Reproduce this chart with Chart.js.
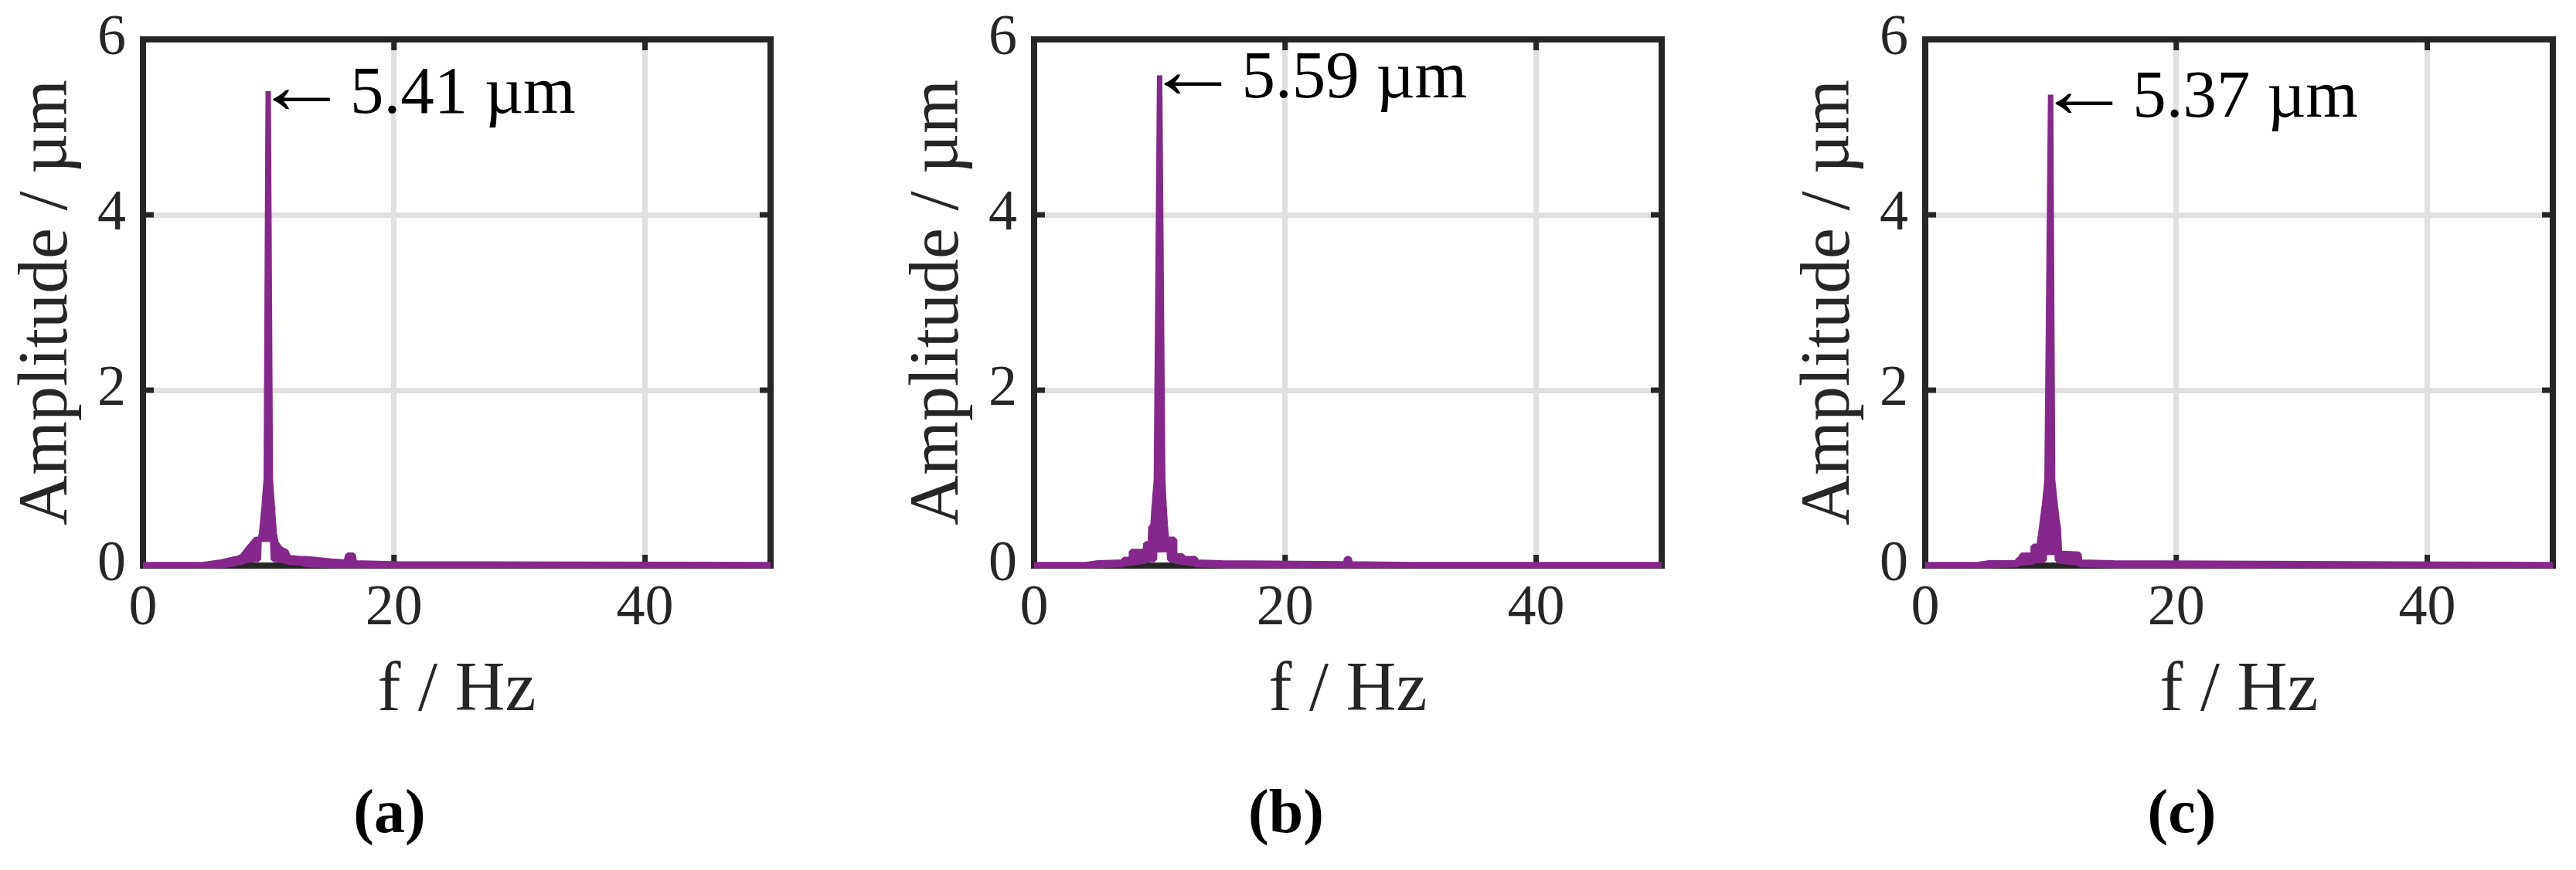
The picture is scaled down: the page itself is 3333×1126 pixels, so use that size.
<!DOCTYPE html>
<html><head><meta charset="utf-8">
<script src="https://cdn.jsdelivr.net/npm/chart.js@4.4.1/dist/chart.umd.min.js"></script>
<style>
html,body{margin:0;padding:0;background:#fff;width:3333px;height:1126px;overflow:hidden;}
canvas{position:absolute;top:0;}
</style></head><body>
<canvas id="pa"></canvas><canvas id="pb"></canvas><canvas id="pc"></canvas>
<script>
// ---------- data ----------
const xTickValues = [0, 20, 40];
const yTickValues = [0, 2, 4, 6];
const panelLabels = ['(a)', '(b)', '(c)'];
const xTitle = 'f / Hz';
const yTitle = 'Amplitude / µm';
const peakFreq = [9.975, 10.0, 9.99];
const peakAmp = [5.41, 5.59, 5.37];

const freqA  = [0, 4.6, 5.2, 6.2, 7.3, 7.5, 7.9, 8.3, 9.0, 9.2, 9.25, 9.35, 9.45, 9.65, 9.82, 9.975, 10.15, 10.30, 10.33, 10.38, 10.46, 10.6, 10.95, 11.4, 11.6, 12.6, 13.0, 15.0, 16.2, 16.3, 16.75, 16.85, 20, 50];
const upperA = [0.01, 0.01, 0.02, 0.04, 0.075, 0.08, 0.105, 0.18, 0.30, 0.30, 0.30, 0.30, 0.37, 0.68, 0.99, 5.41, 0.99, 0.68, 0.62, 0.52, 0.37, 0.26, 0.19, 0.16, 0.09, 0.08, 0.08, 0.05, 0.04, 0.12, 0.12, 0.03, 0.02, 0.01];
const lowerA = [0, 0, 0, 0, 0.02, 0.03, 0.04, 0.06, 0.07, 0.07, 0.29, 0.30, 0.30, 0.30, 0.30, 0.30, 0.30, 0.29, 0.28, 0.07, 0.07, 0.07, 0.06, 0.05, 0.04, 0.03, 0.01, 0, 0, 0, 0, 0, 0, 0];

const freqB  = [0, 4.0, 5.0, 7.1, 7.15, 7.7, 7.75, 8.85, 8.9, 9.26, 9.3, 9.47, 9.57, 9.6, 9.74, 10.0, 10.25, 10.35, 10.45, 10.55, 10.76, 10.8, 11.16, 11.2, 11.82, 11.86, 12.85, 12.9, 15.0, 24.8, 24.9, 25.1, 25.2, 30, 50];
const upperB = [0.01, 0.01, 0.03, 0.04, 0.07, 0.07, 0.16, 0.16, 0.25, 0.25, 0.43, 0.46, 0.69, 0.74, 0.98, 5.59, 0.98, 0.69, 0.46, 0.30, 0.30, 0.30, 0.30, 0.11, 0.11, 0.08, 0.08, 0.04, 0.03, 0.02, 0.08, 0.08, 0.02, 0.01, 0.01];
const lowerB = [0, 0, 0, 0.01, 0.02, 0.03, 0.03, 0.05, 0.06, 0.07, 0.07, 0.07, 0.07, 0.18, 0.18, 0.18, 0.18, 0.18, 0.18, 0.18, 0.18, 0.07, 0.06, 0.05, 0.04, 0.04, 0.02, 0.01, 0, 0, 0, 0, 0, 0, 0];

const freqC  = [0, 4.0, 5.0, 7.33, 7.38, 7.63, 7.68, 8.56, 8.6, 9.07, 9.29, 9.47, 9.5, 9.70, 9.99, 10.15, 10.36, 10.5, 10.53, 10.6, 10.7, 12.25, 12.3, 15.0, 50];
const upperC = [0.01, 0.01, 0.03, 0.03, 0.07, 0.07, 0.12, 0.12, 0.22, 0.22, 0.46, 0.66, 0.69, 0.98, 5.37, 0.98, 0.69, 0.52, 0.49, 0.43, 0.14, 0.13, 0.04, 0.03, 0.01];
const lowerC = [0, 0, 0, 0.01, 0.02, 0.03, 0.03, 0.04, 0.05, 0.06, 0.06, 0.06, 0.15, 0.15, 0.15, 0.15, 0.15, 0.15, 0.06, 0.06, 0.05, 0.03, 0.01, 0, 0];

// ---------- style / layout ----------
const PURPLE = '#86288B';
const AXIS = '#262626';
const GRID = '#e0e0e0';
const SERIF = "'Liberation Serif', serif";
Chart.defaults.font.family = SERIF;

const panelDefs = [
  {id: 'pa', left: 0,    width: 1008, freq: freqA, upper: upperA, lower: lowerA},
  {id: 'pb', left: 1153, width: 1022, freq: freqB, upper: upperB, lower: lowerB},
  {id: 'pc', left: 2306, width: 1034, freq: freqC, upper: upperC, lower: lowerC}
];

const innerTicks = {
  id: 'innerTicks',
  beforeDatasetsDraw(chart) {
    const {ctx, chartArea: a, scales: {x, y}} = chart;
    const L = 14;
    ctx.save();
    ctx.strokeStyle = AXIS; ctx.lineWidth = 7; ctx.lineCap = 'butt';
    ctx.beginPath();
    xTickValues.forEach(v => {
      const px = x.getPixelForValue(v);
      if (px <= a.left + 2 || px >= a.right - 2) return;
      ctx.moveTo(px, a.bottom); ctx.lineTo(px, a.bottom - L);
      ctx.moveTo(px, a.top); ctx.lineTo(px, a.top + L);
    });
    yTickValues.forEach(v => {
      const py = y.getPixelForValue(v);
      if (py <= a.top + 2 || py >= a.bottom - 2) return;
      ctx.moveTo(a.left, py); ctx.lineTo(a.left + L, py);
      ctx.moveTo(a.right, py); ctx.lineTo(a.right - L, py);
    });
    ctx.stroke();
    ctx.restore();
  }
};

function makePeakLabel(i) {
  return {
    id: 'peakLabel' + i,
    afterDatasetsDraw(chart) {
      const {ctx, scales: {x, y}} = chart;
      const px = x.getPixelForValue(peakFreq[i]);
      const py = y.getPixelForValue(peakAmp[i]);
      const base = py + 28;
      ctx.save();
      ctx.fillStyle = '#000';
      ctx.textAlign = 'left';
      ctx.textBaseline = 'alphabetic';
      // arrow glyph, stretched to the reference length
      ctx.font = '104px ' + SERIF;
      const m = ctx.measureText('\u2190');
      const w = m.actualBoundingBoxLeft + m.actualBoundingBoxRight;
      const sx = 74 / w;
      ctx.save();
      ctx.translate(px + 6, base);
      ctx.scale(sx, 1);
      ctx.fillText('\u2190', m.actualBoundingBoxLeft, 0);
      ctx.restore();
      ctx.font = '87px ' + SERIF;
      ctx.fillText(peakAmp[i].toFixed(2) + ' µm', px + 106, base);
      ctx.restore();
    }
  };
}

panelDefs.forEach((p, i) => {
  const cv = document.getElementById(p.id);
  cv.width = p.width; cv.height = 1126;
  cv.style.left = p.left + 'px';
  cv.style.width = p.width + 'px'; cv.style.height = '1126px';
  const rightW = p.width - 997;
  const lowerPts = p.freq.map((f, k) => ({x: f, y: p.lower[k]}));
  const upperPts = p.freq.map((f, k) => ({x: f, y: p.upper[k]}));
  new Chart(cv, {
    type: 'line',
    data: {
      datasets: [
        {data: lowerPts, borderColor: PURPLE, borderWidth: 7, pointRadius: 0, fill: false, tension: 0, borderJoinStyle: 'bevel', clip: 8},
        {data: upperPts, borderColor: PURPLE, backgroundColor: PURPLE, borderWidth: 7, pointRadius: 0, fill: '-1', tension: 0, borderJoinStyle: 'bevel', clip: 8}
      ]
    },
    options: {
      responsive: false, animation: false, devicePixelRatio: 1,
      layout: {padding: 0},
      plugins: {
        legend: {display: false}, tooltip: {enabled: false},
        title: {display: true, position: 'bottom', text: panelLabels[i], color: '#000',
                font: {size: 80, weight: 'bold', lineHeight: 1}, padding: {top: 0, bottom: 30}}
      },
      scales: {
        x: {
          type: 'linear', position: 'bottom', min: 0, max: 50,
          afterBuildTicks: s => { s.ticks = xTickValues.map(v => ({value: v})); },
          afterFit: s => { s.height = 284; },
          ticks: {color: AXIS, font: {size: 74}, padding: 12, maxRotation: 0, autoSkip: false},
          grid: {color: GRID, lineWidth: 7, drawTicks: false},
          border: {display: true, color: AXIS, width: 8},
          title: {display: true, text: xTitle, color: AXIS, font: {size: 90}, padding: {top: 0, bottom: 67}}
        },
        y: {
          type: 'linear', position: 'left', min: 0, max: 6,
          afterBuildTicks: s => { s.ticks = yTickValues.map(v => ({value: v})); },
          afterFit: s => { s.width = 185; },
          ticks: {color: AXIS, font: {size: 74, lineHeight: 0.7}, padding: 22, autoSkip: false},
          grid: {color: GRID, lineWidth: 7, drawTicks: false},
          border: {display: true, color: AXIS, width: 8},
          title: {display: true, text: yTitle, color: AXIS, font: {size: 90}, padding: {top: 8, bottom: 0}}
        },
        x2: {
          type: 'linear', position: 'top', min: 0, max: 50,
          afterFit: s => { s.height = 51; },
          ticks: {display: false}, grid: {display: false, drawTicks: false},
          border: {display: true, color: AXIS, width: 8}
        },
        y2: {
          type: 'linear', position: 'right', min: 0, max: 6,
          afterFit: s => { s.width = rightW; },
          ticks: {display: false}, grid: {display: false, drawTicks: false},
          border: {display: true, color: AXIS, width: 8}
        }
      }
    },
    plugins: [innerTicks, makePeakLabel(i)]
  });
});
</script>
</body></html>
